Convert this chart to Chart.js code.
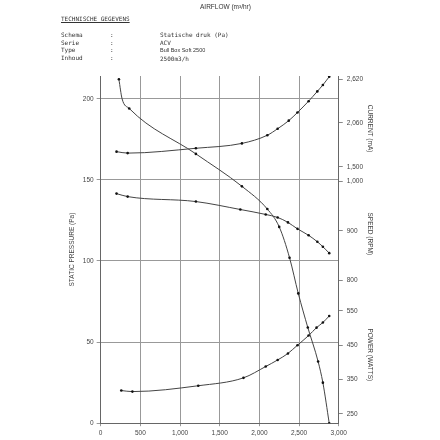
<!DOCTYPE html>
<html><head><meta charset="utf-8">
<script src="https://cdn.jsdelivr.net/npm/chart.js@4"></script>
<style>
html,body{margin:0;padding:0;background:#fff;}
#wrap{position:relative;width:440px;height:440px;font-family:"Liberation Sans",Arial,sans-serif;}
canvas{position:absolute;left:0;top:0;}
.t{position:absolute;font-size:6px;color:#333;white-space:pre;font-family:"DejaVu Sans Mono",monospace;}
</style></head><body>
<div id="wrap">
<canvas id="c" width="440" height="440"></canvas>
<div class="t" style="left:200px;top:3px;font-family:'Liberation Sans';font-size:6.5px">AIRFLOW (m³/hr)</div>
<div class="t" style="left:61px;top:15px;text-decoration:underline">TECHNISCHE GEGEVENS</div>
<div class="t" style="left:61px;top:31px;line-height:7.5px">Schema
Serie
Type
Inhoud</div>
<div class="t" style="left:110px;top:31px;line-height:7.5px">:
:
:
:</div>
<div class="t" style="left:160px;top:31px;line-height:7.5px">Statische druk (Pa)
ACV
<span style="font-family:'Liberation Sans';font-size:5.5px">Bull Box Soft 2500</span>
2500m3/h</div>
</div>
<script>
const pressureX=[230,270,360,1200,1780,2100,2250,2380,2490,2610,2740,2800,2880];
const pressureY=[212,200,194,166,146,132,121,102,80,59,38,25,0];
const currentX=[200,340,1200,1780,2100,2230,2370,2480,2620,2730,2800,2880];
const currentY=[1695,1676,1738,1800,1904,1987,2090,2194,2338,2463,2545,2650];
const speedX=[200,340,1200,1760,2080,2230,2360,2480,2620,2730,2800,2880];
const speedY=[975,969,959,943,933,927,917,904,891,878,868,855];
const powerX=[260,400,1230,1800,2080,2230,2360,2480,2620,2720,2800,2880];
const powerY=[318,315,332,355,388,407,426,450,478,501,516,535];
const pressureTicks=[0,50,100,150,200];
const currentTicks=[1500,2060,2620];
const speedTicks=[800,900,1000];
const powerTicks=[250,300,350,400,450,500,550,600];
const xy=(xs,ys)=>xs.map((x,i)=>({x,y:ys[i]}));
const ds=(d,ax)=>({data:d,yAxisID:ax,borderColor:'#444',borderWidth:1,pointRadius:1.3,pointBackgroundColor:'#111',pointBorderWidth:0,cubicInterpolationMode:'monotone'});
const p=ds(xy(pressureX,pressureY),'y');
p.pointRadius=pressureX.map((x,i)=>i===1?0:1.3);
const fixTicks=arr=>function(s){s.ticks=arr.map(v=>({value:v}));};
const F={size:6.5,family:'Liberation Sans'};
const rightAx=(min,max,ticks,title,w)=>({position:'right',stack:'r',stackWeight:w,min,max,afterBuildTicks:fixTicks(ticks),
 grid:{drawOnChartArea:false,tickLength:4,color:'#888'},border:{color:'#666'},
 ticks:{color:'#444',font:F,padding:4},
 title:{display:true,text:title,color:'#444',font:F}});
new Chart(document.getElementById('c'),{type:'line',
 data:{datasets:[p,ds(xy(currentX,currentY),'yc'),ds(xy(speedX,speedY),'ys'),ds(xy(powerX,powerY),'yp')]},
 options:{responsive:false,animation:false,plugins:{legend:{display:false},tooltip:{enabled:false}},
 layout:{padding:{top:76,left:64,right:62,bottom:0}},
 scales:{
  x:{type:'linear',min:0,max:3000,afterBuildTicks:fixTicks([0,500,1000,1500,2000,2500,3000]),
     grid:{color:'#999',tickLength:3},border:{color:'#666'},ticks:{color:'#444',font:F,maxRotation:0}},
  y:{position:'left',min:0,max:214,afterBuildTicks:fixTicks(pressureTicks),grid:{color:'#999',tickLength:4},border:{color:'#666'},
     ticks:{color:'#444',font:F},
     title:{display:true,text:'STATIC PRESSURE (Pa)',color:'#444',font:F}},
  yc:rightAx(1318,2659,currentTicks,'CURRENT (mA)',1),
  ys:rightAx(788,1000,speedTicks,'SPEED (RPM)',1),
  yp:rightAx(223,621,powerTicks,'POWER (WATTS)',1.3)
 }}});
</script></body></html>
